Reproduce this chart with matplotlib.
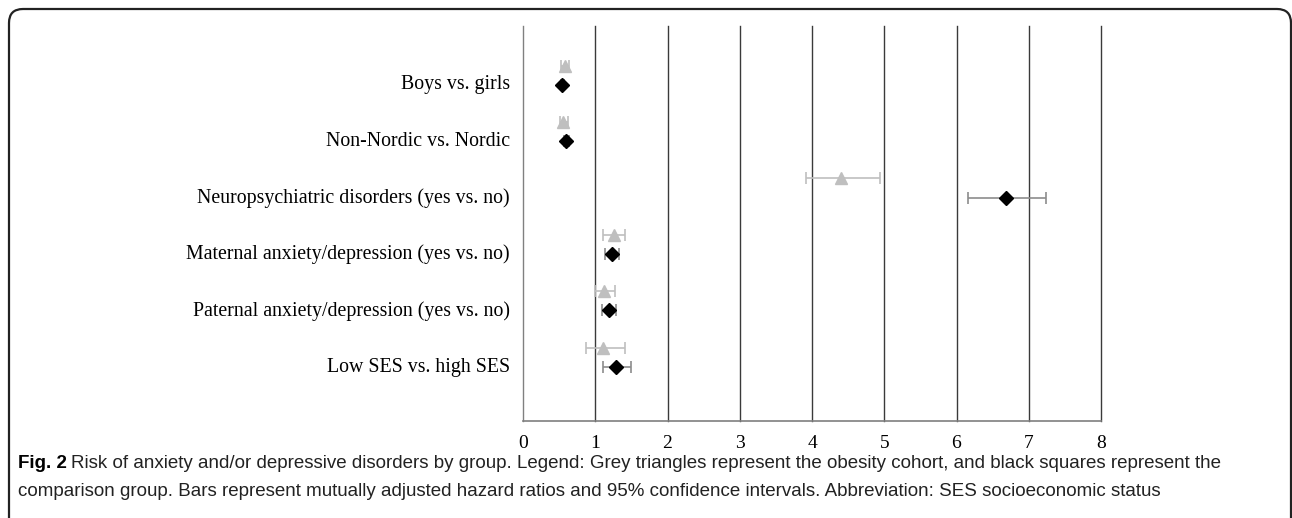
import matplotlib.pyplot as plt
import matplotlib.patches as mpatches
import matplotlib.transforms as mtransforms
import numpy as np

# Hazard ratios
labels = [
    "Boys vs. girls",
    "Non-Nordic vs. Nordic",
    "Neuropsychiatric disorders (yes vs. no)",
    "Maternal anxiety/depression (yes vs. no)",
    "Paternal anxiety/depression (yes vs. no)",
    "Low SES vs. high SES",
]
obesity_hr = [0.58, 0.56, 4.40, 1.26, 1.12, 1.11]
obesity_lo = [0.53, 0.51, 3.92, 1.11, 1.00, 0.87]
obesity_hi = [0.64, 0.62, 4.94, 1.41, 1.28, 1.41]
comparison_hr = [0.54, 0.60, 6.68, 1.23, 1.19, 1.29]
comparison_lo = [0.52, 0.57, 6.16, 1.14, 1.09, 1.11]
comparison_hi = [0.57, 0.63, 7.24, 1.33, 1.29, 1.50]
x_ticks = [0, 1, 2, 3, 4, 5, 6, 7, 8]

serif = ["Liberation Serif", "DejaVu Serif"]

fig = plt.figure(figsize=(12.92, 5.18), dpi=100)
ax = fig.add_axes([523 / 1292, 1 - 421 / 518, (1101 - 523) / 1292, (421 - 26) / 518])

rows = np.arange(1, len(labels) + 1)
y_tri = rows - 0.3
y_dia = rows + 0.04

for x in x_ticks:
    ax.axvline(x, color="#808080" if x == 0 else "#3a3a3a", lw=1.0, zorder=1, clip_on=False)

ob = np.array(obesity_hr)
cp = np.array(comparison_hr)
ax.errorbar(ob, y_tri, xerr=[ob - np.array(obesity_lo), np.array(obesity_hi) - ob],
            fmt="^", color="#bfbfbf", ecolor="#bfbfbf", elinewidth=1.2, capsize=4,
            capthick=1.2, markersize=9, zorder=3)
ax.errorbar(cp, y_dia, xerr=[cp - np.array(comparison_lo), np.array(comparison_hi) - cp],
            fmt="D", color="black", ecolor="#8c8c8c", elinewidth=1.2, capsize=4,
            capthick=1.2, markersize=7, zorder=4)

ax.set_xlim(0, 8)
ax.set_ylim(7, 0)
ax.set_xticks(x_ticks)
ax.set_xticklabels([str(x) for x in x_ticks], fontsize=14, family=serif)
ax.set_yticks(rows)
ax.set_yticklabels(labels, fontsize=14.3, family=serif)
ax.tick_params(axis="y", length=0, pad=9.5)
ax.tick_params(axis="x", length=0, pad=10)
for s in ["top", "right", "left"]:
    ax.spines[s].set_visible(False)
ax.spines["bottom"].set_color("#7f7f7f")
ax.spines["bottom"].set_linewidth(1.2)
ax.set_facecolor("none")

# Rounded frame around figure
frame = mpatches.FancyBboxPatch((19, -40), 1262, 539,
                                boxstyle="round,pad=10,rounding_size=14",
                                transform=mtransforms.IdentityTransform(),
                                fill=False, edgecolor="#222222", lw=1.6)
fig.patches.append(frame)

# Caption
cap_font = ["Liberation Sans Narrow", "Liberation Sans", "DejaVu Sans"]
cap_size = 13.5
fig.canvas.draw()
r = fig.canvas.get_renderer()
t1 = fig.text(18 / 1292, 1 - 464 / 518, "Fig. 2", fontsize=cap_size, fontweight="bold",
              family=cap_font, va="center", ha="left")
bb = t1.get_window_extent(renderer=r)
fig.text((bb.x1 + 4) / 1292, 1 - 464 / 518,
         "Risk of anxiety and/or depressive disorders by group. Legend: Grey triangles represent the obesity cohort, and black squares represent the",
         fontsize=cap_size, family=cap_font, va="center", ha="left", color="#222222")
fig.text(18 / 1292, 1 - 492 / 518,
         "comparison group. Bars represent mutually adjusted hazard ratios and 95% confidence intervals. Abbreviation: SES socioeconomic status",
         fontsize=cap_size, family=cap_font, va="center", ha="left", color="#222222")

fig.savefig("out.png", dpi=100)
